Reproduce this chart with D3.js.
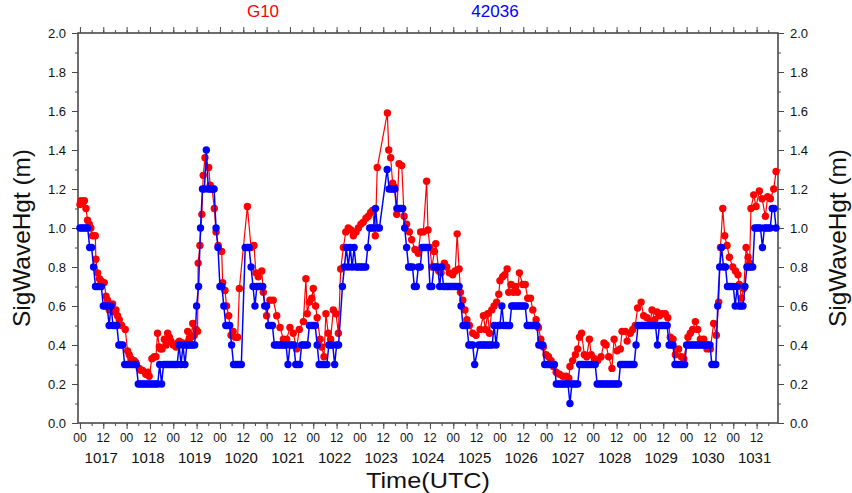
<!DOCTYPE html>
<html><head><meta charset="utf-8">
<script src="https://cdn.jsdelivr.net/npm/d3@7"></script>
<style>body{margin:0;background:#fff}svg{display:block;font-family:"Liberation Sans",Arial,Helvetica,sans-serif}</style>
</head><body><svg id="c" width="852" height="493"></svg>
<script>
// ---------- data ----------
const titles = ["G10", "42036"];
const dayLabels = ["1017","1018","1019","1020","1021","1022","1023","1024","1025","1026","1027","1028","1029","1030","1031"];
const hourLabels = ["00", "12"];
const yTickLabels = ["0.0","0.2","0.4","0.6","0.8","1.0","1.2","1.4","1.6","1.8","2.0"];
const xTitle = "Time(UTC)";
const yTitle = "SigWaveHgt (m)";

// G10 (red): [hours since 1017 00 UTC, significant wave height m]
const redSeries = [
[0,1.12],[0.5,1.14],[1.4,1.13],[2.3,1.14],[3.1,1.10],[3.9,1.04],[4.8,1.02],[5.6,1.00],[6.5,0.96],[7.9,0.96],[8.2,0.84],[9.1,0.77],[10,0.74],[10.8,0.73],[12.5,0.72],[13.4,0.65],[14.2,0.63],[15.1,0.58],[16,0.60],[16.8,0.61],[17.6,0.57],[18.5,0.58],[19.3,0.55],[20.2,0.53],[21.5,0.50],[23.3,0.48],
[24.5,0.37],[25.3,0.35],[26.2,0.33],[27.9,0.32],[28.7,0.31],[30.5,0.28],[31.3,0.27],[32.2,0.27],[33.9,0.25],[34.8,0.26],[35.6,0.24],[37,0.33],[38.2,0.34],[39.1,0.34],[39.9,0.46],[40.8,0.39],[41.5,0.38],[42.2,0.38],[43.4,0.43],[44.3,0.40],[45.1,0.46],[46,0.44],[46.8,0.42],
[48,0.40],[49.4,0.39],[50.3,0.41],[51.1,0.42],[52.8,0.41],[54,0.40],[55.4,0.47],[56.2,0.43],[57.1,0.44],[58,0.51],[58.8,0.45],[59.7,0.48],[60.5,0.47],[60.8,0.82],[61.7,0.91],[62.7,1.07],[63.4,1.27],[64.3,1.36],[66.2,1.31],[67,1.22],[68,1.20],[69.1,1.10],[70,0.98],[71.1,0.91],
[72.9,0.88],[73.4,0.72],[74.6,0.68],[75.4,0.60],[76.5,0.55],[77.7,0.45],[78.8,0.47],[79.9,0.44],[81.1,0.44],[82,0.69],[86.1,1.11],[88,0.90],[89.5,0.91],[90.5,0.77],[91.7,0.75],[93.5,0.78],[94.3,0.67],
[96,0.55],[97.7,0.63],[99.4,0.63],[101.2,0.55],[102.9,0.49],[104.6,0.43],[106.3,0.43],[108,0.49],[109.7,0.46],[111.4,0.38],[112.8,0.48],[114.9,0.52],[116.2,0.74],[116.9,0.56],[118,0.62],[119.2,0.64],
[120,0.69],[121.2,0.60],[122,0.54],[123.5,0.43],[124.3,0.39],[125.5,0.34],[126.5,0.56],[127.7,0.46],[128.9,0.43],[130.3,0.58],[131.7,0.56],[132.9,0.46],[134.1,0.79],[135.5,0.90],[136.7,0.98],[138,1.00],[139.4,0.99],[140.6,0.96],[142,0.98],[143.2,1.00],
[144.5,1.02],[145.7,1.03],[147.1,1.05],[148.3,1.06],[149.5,1.08],[150.5,1.09],[151.9,0.96],[152.9,1.31],[158.1,1.59],[158.8,1.40],[159.8,1.36],[160.8,1.23],[161.7,1.21],[162.9,1.07],[164.1,1.33],[165.5,1.32],[166.7,1.06],
[168,1.02],[169.4,0.98],[170.6,0.94],[172.3,0.89],[174,0.87],[175.2,0.98],[176.6,0.98],[178.3,1.24],[179,0.99],[180,0.90],[181,0.80],[182.3,0.88],[183,0.92],[184.5,0.78],[185.7,0.77],[187.4,0.82],[188.6,0.80],[190,0.77],
[191.7,0.76],[193,0.78],[194,0.97],[195,0.79],[195.7,0.67],[196.9,0.63],[198,0.58],[199,0.53],[200.3,0.50],[202,0.46],[203.7,0.45],[205.8,0.48],[207.5,0.55],[208.5,0.48],[209.7,0.56],[210.6,0.46],[211.8,0.58],[213,0.60],[214.3,0.62],[215.4,0.66],
[216,0.73],[217.4,0.75],[218.5,0.76],[219.7,0.79],[220.5,0.67],[221.7,0.71],[222.9,0.67],[224,0.70],[225,0.67],[226,0.77],[227.7,0.71],[229,0.71],[230.3,0.64],[231.7,0.64],[232.9,0.58],[234.6,0.53],[235.8,0.49],[237,0.43],[238.3,0.39],[239.7,0.35],
[241,0.34],[242.3,0.32],[243.5,0.29],[244.9,0.26],[246.6,0.25],[248.3,0.24],[250,0.24],[251.4,0.23],[252,0.29],[253.4,0.32],[254.8,0.35],[256,0.38],[256.9,0.44],[258,0.46],[259.4,0.35],[260.6,0.34],[262,0.43],[262.9,0.35],
[264.6,0.33],[266.3,0.32],[268,0.34],[269.5,0.41],[270.6,0.40],[271.9,0.34],[273.6,0.28],[274.7,0.43],[276.2,0.37],[277.9,0.38],[278.8,0.47],[280.5,0.47],[281.4,0.42],[283,0.46],[284.3,0.48],[285.6,0.50],[286.8,0.59],
[288.6,0.62],[289.9,0.55],[291.6,0.54],[293.4,0.52],[294.2,0.58],[295.6,0.53],[296.8,0.57],[298,0.55],[299.4,0.56],[301,0.56],[302.3,0.54],[303.6,0.44],[305,0.43],[306.2,0.35],[307.9,0.38],[309.3,0.34],[310.5,0.33],
[312.7,0.44],[313.9,0.46],[315.1,0.48],[316.5,0.52],[317.7,0.48],[319.1,0.43],[320.8,0.43],[322.5,0.38],[324.2,0.38],[325.9,0.51],[327.3,0.45],[328.5,0.62],[329.4,0.90],[330.6,1.10],[331.6,0.96],[332.8,0.91],[334,0.85],[335.7,0.80],
[337.1,0.78],[338.4,0.76],[339.1,0.71],[340.2,0.64],[341.4,0.69],[342.6,0.90],[343.6,0.85],[344.4,0.82],[345.1,1.10],[346.5,1.17],[347.7,1.11],[349.4,1.19],[350.8,1.15],[352.5,1.06],[353.7,1.16],[355.1,1.15],[356.8,1.20],[358,1.29]
];

// 42036 (blue): hourly values starting 1017 00 UTC (one row per day), null = missing
const blueValues = [
1.0,1.0,1.0,1.0,1.0,0.9,0.9,0.8,0.7,0.7,0.7,0.7,0.6,0.6,0.6,0.5,0.6,0.5,0.5,0.5,0.4,0.4,0.4,0.3,
0.3,0.3,0.3,0.3,0.3,0.3,0.2,0.2,0.2,0.2,0.2,0.2,0.2,0.2,0.2,0.2,0.2,0.3,0.2,0.3,0.3,0.3,0.3,0.3,
0.3,0.3,0.3,0.4,0.3,0.4,0.3,0.4,0.4,0.4,0.4,0.4,0.6,0.7,1.0,1.2,1.2,1.4,1.2,1.2,1.2,1.2,1.0,0.9,
0.7,0.7,0.6,0.5,0.5,0.5,0.4,0.3,0.3,0.3,0.3,0.3,null,0.9,0.9,0.9,0.8,0.7,0.6,0.7,0.7,0.7,0.7,0.6,
0.6,0.5,0.5,0.5,0.4,0.4,0.4,0.4,0.4,0.4,0.4,0.3,0.4,0.4,0.4,0.3,0.3,0.3,0.4,0.4,0.4,0.4,0.5,0.5,
0.5,0.5,0.4,0.3,0.3,0.3,0.3,0.3,0.4,0.4,0.4,0.3,0.4,0.4,null,0.7,0.8,0.9,0.8,0.9,0.8,0.9,0.8,0.8,
0.8,0.8,0.8,0.8,0.9,1.0,1.0,1.0,1.1,1.0,1.0,null,null,null,1.3,1.2,1.2,1.2,1.2,1.1,1.1,1.1,1.1,1.0,
0.9,0.8,0.8,0.8,0.7,0.7,0.8,0.8,0.9,0.9,0.9,0.9,0.7,0.7,0.8,0.8,0.8,0.7,0.8,0.7,0.7,0.7,0.7,0.7,
0.7,0.7,0.7,0.7,0.6,0.5,0.5,0.5,0.4,0.4,0.4,0.3,null,0.4,0.4,0.4,0.4,0.4,0.4,0.4,0.4,0.5,0.4,0.5,
0.5,0.6,0.5,0.5,0.5,0.5,0.6,0.6,0.6,0.6,0.6,0.6,0.6,0.6,0.5,0.5,0.5,0.5,0.5,0.5,0.4,0.4,0.4,0.3,
0.3,0.3,0.3,0.3,0.3,0.2,0.2,0.2,0.2,0.2,0.2,0.2,0.1,0.2,0.2,0.2,0.2,0.3,0.3,0.3,0.3,0.3,0.3,0.3,
0.3,0.3,0.2,0.2,0.2,0.2,0.2,0.2,0.2,0.2,0.2,0.2,0.2,0.2,0.3,0.3,0.3,0.3,0.3,0.3,0.3,0.3,0.4,0.5,
0.5,0.5,0.5,0.5,0.5,0.5,0.5,0.5,0.5,0.4,0.5,0.5,0.5,0.5,0.5,0.4,0.4,0.4,0.3,0.3,0.3,0.3,0.3,0.3,
0.4,0.4,0.4,0.4,0.4,0.4,0.4,0.4,0.4,0.4,0.4,0.4,0.4,0.3,0.3,0.3,0.6,0.8,0.9,0.8,0.8,0.7,0.7,0.7,
0.7,0.6,0.7,0.6,0.6,0.6,0.7,0.8,0.8,0.8,0.8,1.0,1.0,1.0,1.0,0.9,1.0,1.0,1.0,1.0,1.1,1.1,1.0
];

// ---------- setup ----------
const M = {left: 78, right: 778, top: 33, bottom: 423};
const HOUR = 3600e3;
const t0 = Date.UTC(2019, 9, 17, 0); // 1017 00 UTC (year not shown)
const toDate = h => new Date(t0 + h * HOUR);

const x = d3.scaleUtc().domain([toDate(-1), toDate(359)]).range([M.left, M.right]);
const y = d3.scaleLinear().domain([0, 2]).range([M.bottom, M.top]);

const svg = d3.select("#c");
const axisColor = "#4a4a4a";

const redData = redSeries.map(([h, v]) => ({t: toDate(h), v}));
const blueData = blueValues.map((v, i) => ({t: toDate(i), v})).filter(d => d.v !== null);

// ---------- axes ----------
const majorTicks = d3.utcHour.every(12).range(toDate(0), toDate(359));
const minorTicks = d3.utcHour.every(6).range(toDate(0), toDate(359));
const yMajor = d3.range(0, 11).map(i => i * 0.2);
const yMinor = d3.range(0, 21).map(i => i * 0.1);

function styleAxis(g) {
  g.select(".domain").remove();
  g.selectAll("line").attr("stroke", axisColor).attr("stroke-width", 1);
  g.selectAll("text").remove();
}
svg.append("g").attr("transform", `translate(0,${M.bottom})`)
  .call(d3.axisBottom(x).tickValues(minorTicks).tickSize(3).tickSizeOuter(0)).call(styleAxis);
svg.append("g").attr("transform", `translate(0,${M.bottom})`)
  .call(d3.axisBottom(x).tickValues(majorTicks).tickSize(6).tickSizeOuter(0)).call(styleAxis);
svg.append("g").attr("transform", `translate(0,${M.top})`)
  .call(d3.axisTop(x).tickValues(minorTicks).tickSize(3).tickSizeOuter(0)).call(styleAxis);
svg.append("g").attr("transform", `translate(0,${M.top})`)
  .call(d3.axisTop(x).tickValues(majorTicks).tickSize(6).tickSizeOuter(0)).call(styleAxis);
svg.append("g").attr("transform", `translate(${M.left},0)`)
  .call(d3.axisLeft(y).tickValues(yMinor).tickSize(3).tickSizeOuter(0)).call(styleAxis);
svg.append("g").attr("transform", `translate(${M.left},0)`)
  .call(d3.axisLeft(y).tickValues(yMajor).tickSize(6).tickSizeOuter(0)).call(styleAxis);
svg.append("g").attr("transform", `translate(${M.right},0)`)
  .call(d3.axisRight(y).tickValues(yMinor).tickSize(3).tickSizeOuter(0)).call(styleAxis);
svg.append("g").attr("transform", `translate(${M.right},0)`)
  .call(d3.axisRight(y).tickValues(yMajor).tickSize(6).tickSizeOuter(0)).call(styleAxis);

svg.append("rect").attr("x", M.left).attr("y", M.top)
  .attr("width", M.right - M.left).attr("height", M.bottom - M.top)
  .attr("fill", "none").attr("stroke", axisColor).attr("stroke-width", 1.6);

// y tick labels
const yl = svg.append("g").attr("font-size", 13).attr("fill", "#111");
yl.selectAll("text.l").data(yMajor).join("text").attr("class", "l")
  .attr("x", M.left - 12).attr("y", d => y(d)).attr("dy", "0.36em")
  .attr("text-anchor", "end").text((d, i) => yTickLabels[i]);
yl.selectAll("text.r").data(yMajor).join("text").attr("class", "r")
  .attr("x", M.right + 12).attr("y", d => y(d)).attr("dy", "0.36em")
  .attr("text-anchor", "start").text((d, i) => yTickLabels[i]);

// x tick labels
const xl = svg.append("g").attr("fill", "#111");
xl.selectAll("text.h").data(majorTicks).join("text").attr("class", "h")
  .attr("x", d => x(d)).attr("y", 442).attr("text-anchor", "middle").attr("font-size", 12)
  .text(d => hourLabels[d.getUTCHours() === 0 ? 0 : 1]);
const noonTicks = majorTicks.filter(d => d.getUTCHours() === 12);
xl.selectAll("text.d").data(noonTicks).join("text").attr("class", "d")
  .attr("x", d => x(d) - 2).attr("y", 463).attr("text-anchor", "middle").attr("font-size", 15)
  .text((d, i) => dayLabels[i]);

// axis titles
svg.append("text").attr("x", 428).attr("y", 488).attr("text-anchor", "middle")
  .attr("font-size", 22).attr("textLength", 124).attr("lengthAdjust", "spacingAndGlyphs")
  .attr("fill", "#111").text(xTitle);
svg.append("text").attr("transform", "translate(30,238) rotate(-90)").attr("text-anchor", "middle")
  .attr("font-size", 24).attr("textLength", 178).attr("lengthAdjust", "spacingAndGlyphs")
  .attr("fill", "#111").text(yTitle);
svg.append("text").attr("transform", "translate(846,238) rotate(-90)").attr("text-anchor", "middle")
  .attr("font-size", 24).attr("textLength", 178).attr("lengthAdjust", "spacingAndGlyphs")
  .attr("fill", "#111").text(yTitle);

// series titles
svg.append("text").attr("x", 263).attr("y", 17).attr("text-anchor", "middle")
  .attr("font-size", 17).attr("fill", "#ff0000").text(titles[0]);
svg.append("text").attr("x", 495).attr("y", 17).attr("text-anchor", "middle")
  .attr("font-size", 17).attr("fill", "#0000ff").text(titles[1]);

// ---------- series ----------
const line = d3.line().x(d => x(d.t)).y(d => y(d.v));
function drawSeries(data, color, lw) {
  const g = svg.append("g");
  g.append("path").datum(data).attr("d", line).attr("fill", "none")
    .attr("stroke", color).attr("stroke-width", lw);
  g.selectAll("circle").data(data).join("circle")
    .attr("cx", d => x(d.t)).attr("cy", d => y(d.v)).attr("r", 3.7).attr("fill", color);
}
drawSeries(redData, "#ff0000", 1.2);
drawSeries(blueData, "#0000ff", 1.5);
</script>
</body></html>
